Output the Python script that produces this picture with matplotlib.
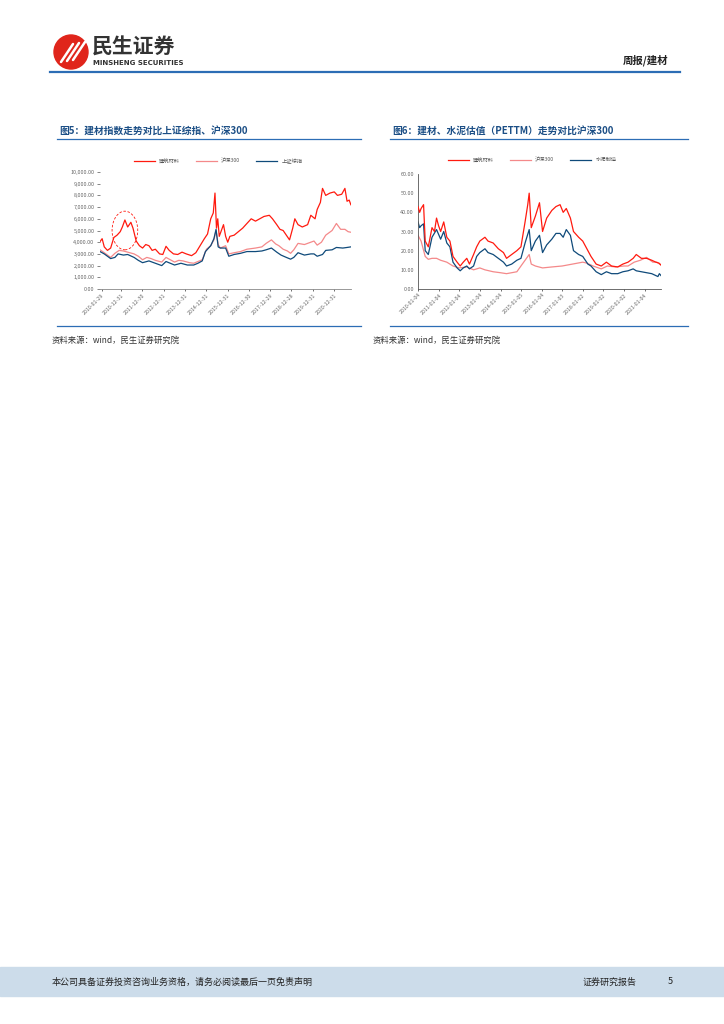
import matplotlib
matplotlib.use("Agg")
import matplotlib.pyplot as plt
import matplotlib.dates as mdates
from matplotlib.patches import Ellipse, Rectangle
from matplotlib.lines import Line2D
from matplotlib.ticker import FuncFormatter, MultipleLocator
from datetime import datetime, timedelta

plt.rcParams['font.family'] = ['Noto Sans CJK SC', 'DejaVu Sans']

# ---- figure 5 data: index level (decimal year, value) ----
jc_t = [2010.0, 2010.1, 2010.2, 2010.35, 2010.5, 2010.65, 2010.8, 2010.95, 2011.05, 2011.17,
        2011.3, 2011.45, 2011.55, 2011.7, 2011.85, 2012.0, 2012.15, 2012.3, 2012.45, 2012.6,
        2012.8, 2012.95, 2013.1, 2013.25, 2013.45, 2013.65, 2013.85, 2014.05, 2014.3, 2014.5,
        2014.7, 2014.9, 2015.05, 2015.2, 2015.32, 2015.4, 2015.47, 2015.53, 2015.6, 2015.7,
        2015.8, 2015.9, 2016.0, 2016.1, 2016.3, 2016.5, 2016.7, 2016.9, 2017.1, 2017.3,
        2017.5, 2017.7, 2017.95, 2018.1, 2018.3, 2018.45, 2018.6, 2018.75, 2018.9, 2019.05,
        2019.15, 2019.3, 2019.5, 2019.75, 2019.9, 2020.1, 2020.2, 2020.35, 2020.45, 2020.6,
        2020.8, 2021.0, 2021.15, 2021.35, 2021.5, 2021.6, 2021.7, 2021.78]
jc_v = [4050, 4300, 3600, 3300, 3500, 4400, 4600, 4900, 5300, 5900,
        5300, 5700, 5200, 4100, 3700, 3500, 3800, 3700, 3300, 3400,
        3000, 2950, 3650, 3300, 3000, 2950, 3150, 3000, 2850, 3100,
        3700, 4300, 4700, 6000, 6500, 8200, 5200, 6000, 4500, 5000,
        5500, 4500, 4000, 4500, 4600, 4900, 5200, 5600, 6000, 5800,
        6000, 6200, 6300, 6000, 5500, 5100, 5000, 4600, 4200, 5200,
        6000, 5500, 5300, 5500, 6300, 6000, 6800, 7400, 8600, 8000,
        8200, 8300, 8000, 8100, 8600, 7500, 7600, 7200]

hs_t = [2010.0, 2010.2, 2010.5, 2010.7, 2010.9, 2011.1, 2011.3, 2011.6, 2011.8, 2012.0,
        2012.2, 2012.4, 2012.6, 2012.9, 2013.1, 2013.5, 2013.7, 2013.9, 2014.2, 2014.4,
        2014.6, 2014.8, 2015.0, 2015.2, 2015.35, 2015.45, 2015.55, 2015.65, 2015.9, 2016.05,
        2016.3, 2016.6, 2016.9, 2017.3, 2017.6, 2017.8, 2018.05, 2018.25, 2018.4, 2018.6,
        2018.8, 2018.95, 2019.1, 2019.3, 2019.6, 2019.9, 2020.05, 2020.2, 2020.4, 2020.6,
        2020.9, 2021.1, 2021.3, 2021.5, 2021.65, 2021.78]
hs_v = [3350, 3100, 2700, 3050, 3300, 3250, 3150, 3000, 2800, 2500,
        2700, 2600, 2450, 2300, 2700, 2300, 2450, 2400, 2250, 2200,
        2350, 2500, 3400, 3700, 4200, 5000, 3800, 3500, 3700, 3000,
        3100, 3200, 3400, 3500, 3600, 3900, 4200, 3850, 3700, 3400,
        3250, 3050, 3350, 3900, 3800, 4000, 4100, 3750, 4000, 4600,
        5000, 5600, 5100, 5100, 4900, 4850]

sz_t = [2010.0, 2010.2, 2010.5, 2010.7, 2010.85, 2011.1, 2011.3, 2011.6, 2011.8, 2012.0,
        2012.3, 2012.6, 2012.9, 2013.1, 2013.5, 2013.8, 2014.1, 2014.4, 2014.6, 2014.8,
        2014.95, 2015.2, 2015.35, 2015.45, 2015.55, 2015.65, 2015.9, 2016.05, 2016.3, 2016.6,
        2016.9, 2017.3, 2017.6, 2017.8, 2018.05, 2018.3, 2018.5, 2018.75, 2018.95, 2019.1,
        2019.3, 2019.6, 2019.9, 2020.05, 2020.2, 2020.45, 2020.6, 2020.9, 2021.1, 2021.4,
        2021.6, 2021.78]
sz_v = [3200, 3000, 2600, 2700, 3000, 2900, 2950, 2700, 2450, 2250,
        2400, 2200, 2000, 2350, 2050, 2200, 2050, 2050, 2200, 2400,
        3200, 3700, 4300, 5100, 3600, 3500, 3500, 2800, 2950, 3050,
        3200, 3200, 3250, 3350, 3500, 3150, 2900, 2700, 2550, 2700,
        3100, 2900, 3000, 3000, 2800, 2950, 3300, 3350, 3550, 3500,
        3550, 3600]

idx_ticks = ['2010-01-29', '2010-12-31', '2011-12-30', '2012-12-31', '2013-12-31', '2014-12-31',
             '2015-12-31', '2016-12-30', '2017-12-29', '2018-12-28', '2019-12-31', '2020-12-31']

# ---- figure 6 data: PE TTM (decimal year, value) ----
pe_jc_t = [2010.0, 2010.08, 2010.15, 2010.27, 2010.35, 2010.5, 2010.68, 2010.8, 2010.9, 2011.0,
           2011.1, 2011.25, 2011.4, 2011.55, 2011.7, 2011.9, 2012.05, 2012.2, 2012.37, 2012.5,
           2012.7, 2012.85, 2013.0, 2013.25, 2013.4, 2013.65, 2013.9, 2014.15, 2014.3, 2014.55,
           2014.8, 2015.0, 2015.2, 2015.33, 2015.4, 2015.5, 2015.7, 2015.9, 2016.05, 2016.25,
           2016.5, 2016.7, 2016.9, 2017.05, 2017.2, 2017.4, 2017.55, 2017.8, 2018.0, 2018.25,
           2018.4, 2018.65, 2018.9, 2019.15, 2019.4, 2019.7, 2019.95, 2020.2, 2020.45, 2020.6,
           2020.85, 2021.1, 2021.35, 2021.55, 2021.7, 2021.8]
pe_jc_v = [43, 40, 42, 44, 25, 22, 32, 30, 37, 33,
           30, 35, 27, 25, 17, 14, 12, 14, 16, 13,
           18, 22, 25, 27, 25, 24, 21, 19, 16, 18,
           20, 22, 35, 44, 50, 32, 38, 45, 30, 37,
           41, 43, 44, 40, 42, 37, 30, 27, 25, 20,
           17, 13, 12, 14, 12, 11.5, 13, 14, 16, 18,
           16, 16, 15, 14, 13.5, 12.5]

pe_hs_t = [2010.0, 2010.15, 2010.35, 2010.5, 2010.68, 2010.9, 2011.1, 2011.4, 2011.7, 2012.0,
           2012.37, 2012.7, 2013.0, 2013.25, 2013.65, 2014.0, 2014.3, 2014.8, 2015.0, 2015.2,
           2015.4, 2015.5, 2015.7, 2016.05, 2016.5, 2017.0, 2017.5, 2018.0, 2018.2, 2018.5,
           2018.9, 2019.2, 2019.6, 2020.0, 2020.2, 2020.5, 2020.8, 2021.1, 2021.4, 2021.6,
           2021.8]
pe_hs_v = [28, 25, 17, 15.5, 16, 16, 15, 14, 12, 11,
           11.5, 10, 11, 10, 9, 8.5, 8, 9, 12, 15,
           18, 13, 12, 11, 11.5, 12, 13, 14, 13.5, 12,
           10.5, 12, 11.5, 12, 12, 14, 15, 16.5, 14, 14,
           12.5]

pe_sn_t = [2010.0, 2010.08, 2010.15, 2010.27, 2010.35, 2010.5, 2010.68, 2010.9, 2011.1, 2011.25,
           2011.4, 2011.55, 2011.7, 2011.9, 2012.05, 2012.2, 2012.37, 2012.5, 2012.7, 2012.85,
           2013.0, 2013.25, 2013.4, 2013.65, 2013.9, 2014.15, 2014.3, 2014.55, 2014.8, 2015.0,
           2015.2, 2015.4, 2015.5, 2015.7, 2015.9, 2016.05, 2016.25, 2016.5, 2016.7, 2016.9,
           2017.05, 2017.2, 2017.4, 2017.55, 2017.8, 2018.0, 2018.25, 2018.4, 2018.65, 2018.9,
           2019.15, 2019.4, 2019.7, 2019.95, 2020.2, 2020.45, 2020.6, 2020.85, 2021.1, 2021.35,
           2021.55, 2021.65, 2021.72, 2021.8]
pe_sn_v = [35, 32, 33, 34, 20, 18, 27, 31, 26, 30,
           24, 22, 14, 11, 9.5, 11, 12, 10.5, 12, 17,
           19, 21, 19, 18, 16, 14, 12, 13, 15, 16,
           24, 31, 20, 25, 28, 19, 23, 26, 29, 29,
           27, 31, 28, 20, 18, 17, 13, 12, 9, 7.5,
           9, 8, 8, 9, 9.5, 10.5, 9.5, 9, 8.5, 8,
           7, 6.5, 8, 7]

pe_ticks = ['2010-01-04', '2011-01-04', '2012-01-04', '2013-01-04', '2014-01-04', '2015-01-05',
            '2016-01-04', '2017-01-03', '2018-01-02', '2019-01-02', '2020-01-02', '2021-01-04']

RED = '#FF1A0F'
PINK = '#F4898A'
BLUE = '#0F4A7A'
TITLE = '#1C4F86'
LINE = '#2C6DB5'


def to_dates(yrs):
    out = []
    for y in yrs:
        yr = int(y)
        out.append(datetime(yr, 1, 1) + timedelta(days=(y - yr) * 365.25))
    return out


W, H = 724, 1024
fig = plt.figure(figsize=(W / 100, H / 100), dpi=100)


def fx(x):
    return x / W


def fy(y):
    return 1 - y / H


# ---- page header ----
fig.patches.append(Ellipse((fx(71), fy(52)), 34 / W, 34 / H, transform=fig.transFigure,
                           color='#E0251B', zorder=2))
for k in range(3):
    fig.lines.append(Line2D([fx(61 + k * 6), fx(73 + k * 6)], [fy(62 - k), fy(44 - k)],
                            transform=fig.transFigure, color='white', lw=1.8, zorder=3,
                            solid_capstyle='round'))
fig.text(fx(92), fy(47), '民生证券', fontsize=15, fontweight='bold', color='#333333',
         va='center', ha='left')
fig.text(fx(93), fy(63), 'MINSHENG SECURITIES', fontsize=5, fontweight='bold',
         color='#333333', va='center', ha='left', family='DejaVu Sans')
fig.text(fx(668), fy(60), '周报/建材', fontsize=7.5, fontweight='bold', color='#222222',
         va='center', ha='right')
fig.lines.append(Line2D([fx(50), fx(680)], [fy(72), fy(72)], transform=fig.transFigure,
                        color=LINE, lw=1.6))

# ---- panel frames ----
for x0, x1, title in [(57, 361, '图5：建材指数走势对比上证综指、沪深300'),
                      (390, 688, '图6：建材、水泥估值（PETTM）走势对比沪深300')]:
    fig.text(fx(x0 + 2), fy(131), title, fontsize=7, fontweight='bold', color=TITLE,
             va='center', ha='left')
    fig.lines.append(Line2D([fx(x0), fx(x1)], [fy(139), fy(139)], transform=fig.transFigure,
                            color=LINE, lw=0.9))
    fig.lines.append(Line2D([fx(x0), fx(x1)], [fy(326), fy(326)], transform=fig.transFigure,
                            color=LINE, lw=0.9))
for x0 in [52, 373]:
    fig.text(fx(x0), fy(340), '资料来源：wind，民生证券研究院', fontsize=6, color='#333333',
             va='center', ha='left')

# ---- figure 5 chart ----
ax1 = fig.add_axes([fx(100), fy(289), fx(351) - fx(100), fy(172) - fy(289)])
ax1.plot(to_dates(jc_t), jc_v, color=RED, lw=0.9, label='建筑材料', zorder=3)
ax1.plot(to_dates(hs_t), hs_v, color=PINK, lw=0.9, label='沪深300', zorder=2)
ax1.plot(to_dates(sz_t), sz_v, color=BLUE, lw=0.9, label='上证综指', zorder=2)
ax1.set_ylim(0, 10000)
ax1.set_xlim(datetime(2010, 1, 1), datetime(2021, 10, 15))
ax1.yaxis.set_major_locator(MultipleLocator(1000))
ax1.yaxis.set_major_formatter(FuncFormatter(lambda v, p: f'{v:,.2f}'))
ax1.set_xticks([datetime.strptime(t, '%Y-%m-%d') for t in idx_ticks])
ax1.set_xticklabels(idx_ticks, rotation=45, ha='right', rotation_mode='anchor')
for s in ['top', 'right', 'left']:
    ax1.spines[s].set_visible(False)
ax1.spines['bottom'].set_color('#888888')
ax1.spines['bottom'].set_linewidth(0.6)
ax1.tick_params(axis='y', labelsize=3.9, labelcolor='#666666', length=2, width=0.5,
                color='#555555', pad=2)
ax1.tick_params(axis='x', labelsize=3.8, labelcolor='#666666', length=1.5, width=0.5,
                color='#333333', pad=1)
# dashed ring around the 2011 peak
pk = jc_v.index(max(jc_v[:15]))
cen = to_dates([jc_t[pk]])[0]
ax1.add_patch(Ellipse((mdates.date2num(cen), 5000), 440, 3300, fill=False, ec=RED,
                      ls=(0, (3, 2)), lw=0.6, zorder=4))
ax1.legend(loc='lower center', bbox_to_anchor=(0.47, 1.03), ncol=3, frameon=False,
           fontsize=3.8, handlelength=4, columnspacing=3, labelcolor='#555555')

# ---- figure 6 chart ----
ax2 = fig.add_axes([fx(418), fy(289), fx(661) - fx(418), fy(174) - fy(289)])
ax2.plot(to_dates(pe_jc_t), pe_jc_v, color=RED, lw=0.9, label='建筑材料', zorder=3)
ax2.plot(to_dates(pe_hs_t), pe_hs_v, color=PINK, lw=0.9, label='沪深300', zorder=2)
ax2.plot(to_dates(pe_sn_t), pe_sn_v, color=BLUE, lw=0.9, label='水泥制造', zorder=2)
ax2.set_ylim(0, 60)
ax2.set_xlim(datetime(2010, 1, 1), datetime(2021, 10, 20))
ax2.yaxis.set_major_locator(MultipleLocator(10))
ax2.yaxis.set_major_formatter(FuncFormatter(lambda v, p: f'{v:.2f}'))
ax2.set_xticks([datetime.strptime(t, '%Y-%m-%d') for t in pe_ticks])
ax2.set_xticklabels(pe_ticks, rotation=45, ha='right', rotation_mode='anchor')
for s in ['top', 'right']:
    ax2.spines[s].set_visible(False)
for s in ['bottom', 'left']:
    ax2.spines[s].set_color('#555555')
    ax2.spines[s].set_linewidth(0.6)
ax2.tick_params(axis='y', labelsize=3.9, labelcolor='#666666', length=0, pad=3)
ax2.tick_params(axis='x', labelsize=3.8, labelcolor='#666666', length=1.5, width=0.5,
                color='#333333', pad=1)
ax2.legend(loc='lower center', bbox_to_anchor=(0.47, 1.06), ncol=3, frameon=False,
           fontsize=3.8, handlelength=4, columnspacing=3, labelcolor='#555555')

# ---- footer ----
fig.patches.append(Rectangle((0, fy(996)), 1, (996 - 967) / H, transform=fig.transFigure,
                             color='#CCDCEA', zorder=0))
fig.text(fx(52), fy(982), '本公司具备证券投资咨询业务资格，请务必阅读最后一页免责声明',
         fontsize=6.5, color='#222222', va='center', ha='left')
fig.text(fx(583), fy(982), '证券研究报告', fontsize=6.5, color='#222222', va='center', ha='left')
fig.text(fx(668), fy(982), '5', fontsize=6.5, color='#222222', va='center', ha='left')

fig.savefig('out.png', dpi=100)
